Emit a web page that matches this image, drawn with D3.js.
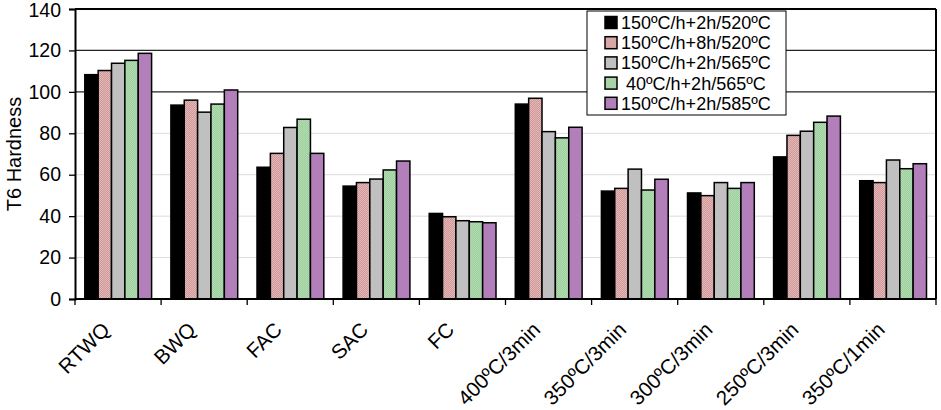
<!DOCTYPE html>
<html>
<head>
<meta charset="utf-8">
<script src="https://cdn.jsdelivr.net/npm/d3@7"></script>
<style>
  body { margin: 0; background: #fff; }
  text { font-family: "Liberation Sans", Arial, sans-serif; fill: #000; }
</style>
</head>
<body>
<div id="chart"></div>
<script>
var svgWidth = 941;
var svgHeight = 410;

var margin = { top: 9, right: 5, bottom: 111, left: 75 };
var width = svgWidth - margin.left - margin.right;
var height = svgHeight - margin.top - margin.bottom;

// data
var categories = ["RTWQ", "BWQ", "FAC", "SAC", "FC", "400ºC/3min", "350ºC/3min", "300ºC/3min", "250ºC/3min", "350ºC/1min"];
var seriesNames = ["150ºC/h+2h/520ºC", "150ºC/h+8h/520ºC", "150ºC/h+2h/565ºC", " 40ºC/h+2h/565ºC", "150ºC/h+2h/585ºC"];
var s520_2h = [108.3, 93.6, 63.6, 54.5, 41.3, 94.1, 52.1, 51.2, 68.6, 57.1];
var s520_8h = [110.3, 96.0, 70.3, 56.2, 39.7, 96.9, 53.4, 49.9, 79.0, 56.2];
var s565_2h = [113.8, 90.2, 82.8, 57.9, 37.8, 80.8, 62.7, 56.2, 81.0, 67.1];
var s565_40 = [115.2, 94.1, 86.8, 62.3, 37.3, 77.8, 52.6, 53.4, 85.3, 62.9];
var s585_2h = [118.6, 100.9, 70.3, 66.6, 36.8, 82.9, 57.8, 56.2, 88.3, 65.3];
var yTicks = [0, 20, 40, 60, 80, 100, 120, 140];

var seriesValues = [s520_2h, s520_8h, s565_2h, s565_40, s585_2h];

var svg = d3.select("#chart")
  .append("svg")
  .attr("width", svgWidth)
  .attr("height", svgHeight);

// dithered fills for the pink and green series
var defs = svg.append("defs");
function dither(id, c1, c2) {
  var p = defs.append("pattern")
    .attr("id", id)
    .attr("width", 2).attr("height", 2)
    .attr("patternUnits", "userSpaceOnUse");
  p.append("rect").attr("width", 2).attr("height", 2).attr("fill", c1);
  p.append("rect").attr("width", 1).attr("height", 1).attr("fill", c2);
  p.append("rect").attr("x", 1).attr("y", 1).attr("width", 1).attr("height", 1).attr("fill", c2);
}
dither("pinkDots", "#d09898", "#e2b8b8");
dither("greenDots", "#9ccf9c", "#b4dcb4");
var fills = ["#000000", "url(#pinkDots)", "#c0c0c0", "url(#greenDots)", "#b27fba"];
var swatchFills = ["#000000", "#d8a8a8", "#c0c0c0", "#a6d4a6", "#b27fba"];

var chartGroup = svg.append("g")
  .attr("transform", `translate(${margin.left}, ${margin.top})`);

var xScale = d3.scaleBand()
  .domain(categories)
  .range([0, width]);

var xInner = d3.scaleBand()
  .domain(d3.range(seriesNames.length))
  .range([9.8, xScale.bandwidth() - 9.5]);

var yScale = d3.scaleLinear()
  .domain([0, 140])
  .range([height, 0]);

// gridlines
chartGroup.selectAll(".grid")
  .data(yTicks.filter(d => d > 0 && d < 140))
  .enter()
  .append("line")
  .attr("x1", 0)
  .attr("x2", width)
  .attr("y1", d => yScale(d))
  .attr("y2", d => yScale(d))
  .attr("stroke", d => d >= 100 ? "#222" : "#dcdcdc")
  .attr("stroke-width", d => d >= 100 ? 1.3 : 1);

// bars
var table = [];
categories.forEach(function(c, i) {
  seriesValues.forEach(function(vals, j) {
    table.push({ cat: c, s: j, value: vals[i] });
  });
});

chartGroup.selectAll(".bar")
  .data(table)
  .enter()
  .append("rect")
  .attr("x", d => xScale(d.cat) + xInner(d.s))
  .attr("y", d => yScale(d.value))
  .attr("width", xInner.bandwidth())
  .attr("height", d => height - yScale(d.value))
  .attr("fill", d => fills[d.s])
  .attr("stroke", "#000")
  .attr("stroke-width", 1.5);

// frame: top and right
chartGroup.append("line")
  .attr("x1", 0).attr("x2", width)
  .attr("y1", 0).attr("y2", 0)
  .attr("stroke", "#000").attr("stroke-width", 2);
chartGroup.append("line")
  .attr("x1", width).attr("x2", width)
  .attr("y1", 0).attr("y2", height)
  .attr("stroke", "#000").attr("stroke-width", 2);

// y axis
var leftAxis = d3.axisLeft(yScale)
  .tickValues(yTicks)
  .tickSize(6)
  .tickPadding(8);

var yAxisG = chartGroup.append("g").call(leftAxis);
yAxisG.select(".domain").attr("stroke", "#000").attr("stroke-width", 2);
yAxisG.selectAll(".tick line").attr("stroke", "#000").attr("stroke-width", 1.3);
yAxisG.selectAll(".tick text")
  .attr("font-size", 19.5)
  .attr("dy", d => d === 140 ? "0.38em" : "0.32em")
  .attr("font-family", "Liberation Sans, Arial, sans-serif");

// x axis: ticks at the category boundaries
var bounds = categories.map(c => xScale(c)).concat([width]);
var xAxisG = chartGroup.append("g")
  .attr("transform", `translate(0, ${height})`);
xAxisG.append("line")
  .attr("x1", 0).attr("x2", width)
  .attr("stroke", "#000").attr("stroke-width", 2);
xAxisG.selectAll(".xt")
  .data(bounds)
  .enter()
  .append("line")
  .attr("x1", d => d).attr("x2", d => d)
  .attr("y1", 0).attr("y2", 6)
  .attr("stroke", "#000").attr("stroke-width", 1.3);

xAxisG.selectAll(".xl")
  .data(categories)
  .enter()
  .append("text")
  .attr("text-anchor", "end")
  .attr("font-size", 20.5)
  .attr("transform", d => `translate(${xScale(d) + xScale.bandwidth() / 2 - 7}, 32) rotate(-45)`)
  .text(d => d);

// y axis title
svg.append("text")
  .attr("transform", `translate(21, ${margin.top + height / 2}) rotate(-90)`)
  .attr("text-anchor", "middle")
  .attr("font-size", 20)
  .text("T6 Hardness");

// legend
var legend = svg.append("g").attr("transform", "translate(587, 11)");
legend.append("rect")
  .attr("width", 199)
  .attr("height", 104)
  .attr("fill", "#fff")
  .attr("stroke", "#000")
  .attr("stroke-width", 1);

var items = legend.selectAll(".item")
  .data(seriesNames)
  .enter()
  .append("g")
  .attr("transform", (d, i) => `translate(0, ${11.5 + i * 20.2})`);

items.append("rect")
  .attr("x", 18).attr("y", -6)
  .attr("width", 12).attr("height", 12)
  .attr("fill", (d, i) => swatchFills[i])
  .attr("stroke", "#000")
  .attr("stroke-width", 1.5);

items.append("text")
  .attr("x", 34)
  .attr("y", 6.5)
  .attr("font-size", 18)
  .style("white-space", "pre")
  .text(d => d);
</script>
</body>
</html>
